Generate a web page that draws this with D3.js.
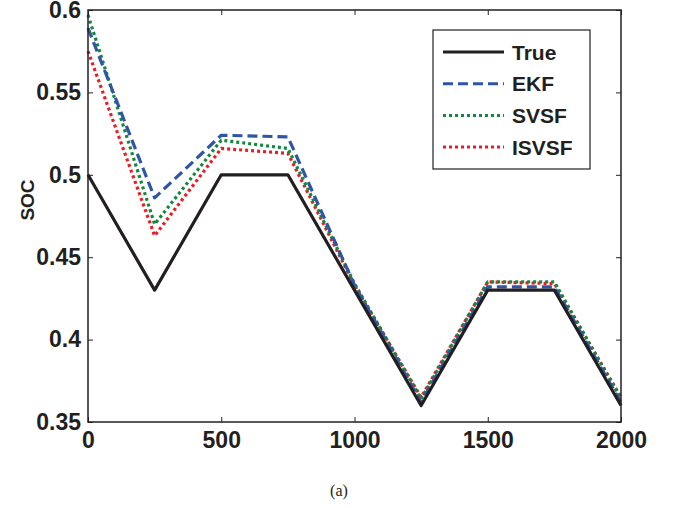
<!DOCTYPE html>
<html>
<head>
<meta charset="utf-8">
<script src="https://cdn.jsdelivr.net/npm/d3@7"></script>
<style>
  body { margin: 0; background: #fff; }
  svg text { font-family: Arial, "Liberation Sans", sans-serif; }
</style>
</head>
<body>
<svg id="chart" width="678" height="508"></svg>
<script>
// data
const time = [0, 250, 500, 750, 1000, 1250, 1500, 1750, 2000]
const socTrue = [0.5, 0.43, 0.5, 0.5, 0.43, 0.36, 0.43, 0.43, 0.36]
const socEKF = [0.589, 0.486, 0.524, 0.523, 0.433, 0.362, 0.432, 0.432, 0.362]
const socSVSF = [0.597, 0.470, 0.521, 0.516, 0.434, 0.364, 0.435, 0.435, 0.364]
const socISVSF = [0.575, 0.463, 0.516, 0.513, 0.433, 0.365, 0.435, 0.434, 0.365]

const xTicks = [0, 500, 1000, 1500, 2000]
const yTicks = [0.35, 0.4, 0.45, 0.5, 0.55, 0.6]

const series = [
  { name: 'True', values: socTrue, color: '#231f20', dash: null },
  { name: 'EKF', values: socEKF, color: '#2f55a4', dash: '10,5' },
  { name: 'SVSF', values: socSVSF, color: '#12893e', dash: '3,3' },
  { name: 'ISVSF', values: socISVSF, color: '#ed1c24', dash: '3,3' },
]

const margin = { top: 10, right: 57, bottom: 86, left: 88 }
const width = 678
const height = 508
const chartWidth = width - margin.left - margin.right
const chartHeight = height - margin.top - margin.bottom

const x = d3.scaleLinear().domain([0, 2000]).range([0, chartWidth])
const y = d3.scaleLinear().domain([0.35, 0.6]).range([chartHeight, 0])

const svg = d3
  .select('#chart')
  .append('g')
  .attr('transform', 'translate(' + margin.left + ',' + margin.top + ')')

// lines
const line = d3
  .line()
  .x((d, i) => x(time[i]))
  .y((d) => y(d))

svg
  .selectAll('path.series')
  .data(series.slice().reverse())
  .join('path')
  .attr('class', 'series')
  .attr('d', (d) => line(d.values))
  .attr('fill', 'none')
  .attr('stroke', (d) => d.color)
  .attr('stroke-width', 3.2)
  .attr('stroke-dasharray', (d) => d.dash)
  .attr('stroke-linejoin', 'round')

// axes, matlab style with ticks inside and mirrored
const tickLen = 5
const styleAxis = (g) => {
  g.select('.domain').remove()
  g.selectAll('line').attr('stroke', '#231f20').attr('stroke-width', 1)
  g.selectAll('text')
    .attr('fill', '#231f20')
    .style('font-size', '23px')
    .style('font-weight', 'bold')
}

svg
  .append('g')
  .attr('transform', 'translate(0,' + chartHeight + ')')
  .call(d3.axisBottom(x).tickValues(xTicks).tickSize(-tickLen).tickPadding(10).tickFormat(d3.format('d')))
  .call(styleAxis)

svg
  .append('g')
  .call(d3.axisTop(x).tickValues(xTicks).tickSize(-tickLen).tickFormat(''))
  .call(styleAxis)

svg
  .append('g')
  .call(d3.axisLeft(y).tickValues(yTicks).tickSize(-tickLen).tickPadding(7).tickFormat((d) => String(+d.toFixed(2))))
  .call(styleAxis)

svg
  .append('g')
  .attr('transform', 'translate(' + chartWidth + ',0)')
  .call(d3.axisRight(y).tickValues(yTicks).tickSize(-tickLen).tickFormat(''))
  .call(styleAxis)

// frame
svg
  .append('rect')
  .attr('width', chartWidth)
  .attr('height', chartHeight)
  .attr('fill', 'none')
  .attr('stroke', '#231f20')
  .attr('stroke-width', 1.5)

// y axis title
svg
  .append('text')
  .attr('transform', 'translate(' + (-61) + ',' + 190 + ') rotate(-90)')
  .attr('text-anchor', 'middle')
  .attr('dy', '0.36em')
  .style('font-size', '19px')
  .style('font-weight', 'bold')
  .attr('fill', '#231f20')
  .text('SOC')

// legend
const legend = svg.append('g').attr('transform', 'translate(345,20)')
legend
  .append('rect')
  .attr('width', 157)
  .attr('height', 139)
  .attr('fill', '#fff')
  .attr('stroke', '#231f20')
  .attr('stroke-width', 1.2)

const items = legend
  .selectAll('g.item')
  .data(series)
  .join('g')
  .attr('class', 'item')
  .attr('transform', (d, i) => 'translate(0,' + (22 + i * 31.7) + ')')

items
  .append('line')
  .attr('x1', 10)
  .attr('x2', 71)
  .attr('stroke', (d) => d.color)
  .attr('stroke-width', 3)
  .attr('stroke-dasharray', (d) => d.dash)

items
  .append('text')
  .attr('x', 79)
  .attr('dy', '0.36em')
  .style('font-size', '21px')
  .style('font-weight', 'bold')
  .attr('fill', '#231f20')
  .text((d) => d.name)

// caption
d3.select('#chart')
  .append('text')
  .attr('x', 339)
  .attr('y', 496)
  .attr('text-anchor', 'middle')
  .style('font-family', '"Liberation Serif", "Times New Roman", serif')
  .style('font-size', '16px')
  .attr('fill', '#231f20')
  .text('(a)')
</script>
</body>
</html>
